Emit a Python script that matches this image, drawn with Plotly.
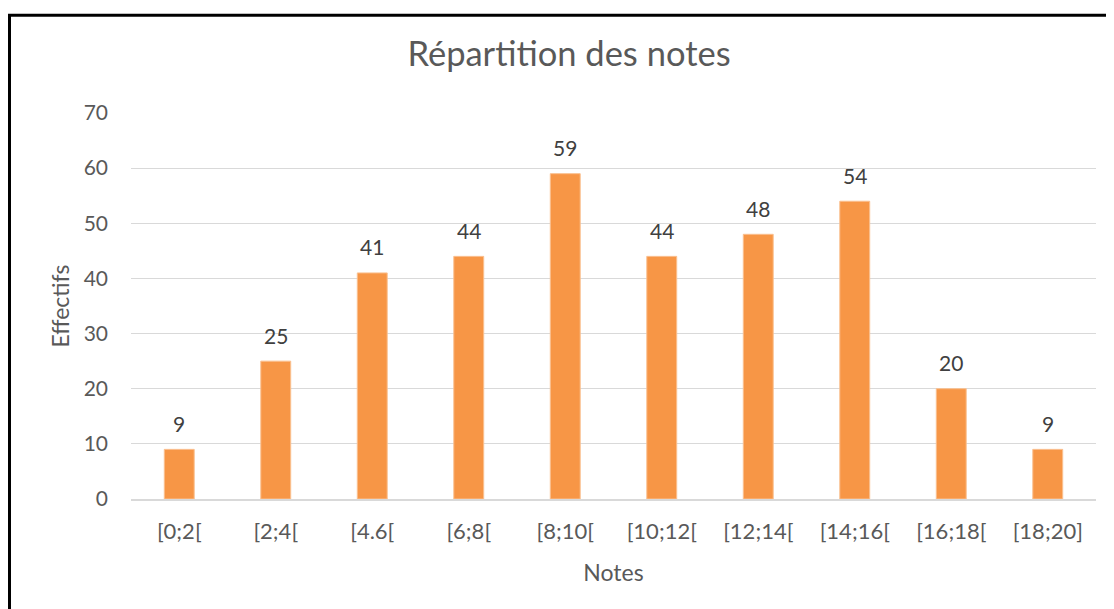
import plotly.graph_objects as go

categories = ["[0;2[", "[2;4[", "[4.6[", "[6;8[", "[8;10[", "[10;12[", "[12;14[", "[14;16[", "[16;18[", "[18;20]"]
effectifs = [9, 25, 41, 44, 59, 44, 48, 54, 20, 9]
y_ticks = [0, 10, 20, 30, 40, 50, 60, 70]

FONT = "Lato, 'Noto Sans', sans-serif"
W, H = 1114, 609
OFF = 8  # page body margin
ML, MR, MT, MB = 131 - OFF, 26, 113 - OFF, 117.5

fig = go.Figure()
fig.add_trace(go.Bar(
    x=categories, y=effectifs,
    marker=dict(color="#F79646", line=dict(color="#FAC090", width=1)),
    hoverinfo="x+y",
))

for c, v in zip(categories, effectifs):
    fig.add_annotation(x=c, y=v, text=str(v), showarrow=False, yanchor="middle",
                       yshift=26, font=dict(family=FONT, size=21, color="#404040"))

pw = W - ML - MR
ph = H - MT - MB
def px_to_paper_x(px):
    return (px - OFF - ML) / pw
def py_to_paper_y(py):
    return (H - MB - (py - OFF)) / ph

fig.add_shape(type="line", xref="paper", yref="paper",
              x0=px_to_paper_x(8), x1=px_to_paper_x(1130),
              y0=py_to_paper_y(15), y1=py_to_paper_y(15),
              line=dict(color="black", width=3))
fig.add_shape(type="line", xref="paper", yref="paper",
              x0=px_to_paper_x(9.5), x1=px_to_paper_x(9.5),
              y0=py_to_paper_y(14), y1=py_to_paper_y(640),
              line=dict(color="black", width=3))

fig.update_layout(
    width=W, height=H,
    margin=dict(l=ML, r=MR, t=MT, b=MB),
    paper_bgcolor="white", plot_bgcolor="white",
    bargap=0.69,
    showlegend=False,
    title=dict(text="Répartition des notes", x=(569 - OFF) / W, xref="container", xanchor="center",
               y=1 - (54 - OFF) / H, yref="container", yanchor="middle",
               font=dict(family=FONT, size=34.5, color="#595959")),
    font=dict(family=FONT, color="#595959"),
    xaxis=dict(
        title=dict(text="Notes", font=dict(family=FONT, size=23, color="#595959"), standoff=22),
        tickfont=dict(family=FONT, size=22, color="#595959"),
        showline=True, linecolor="#D9D9D9", linewidth=1.5,
        showgrid=False, ticks="", ticklabelstandoff=12,
    ),
    yaxis=dict(
        title=dict(text="Effectifs", font=dict(family=FONT, size=23, color="#595959"), standoff=7),
        tickfont=dict(family=FONT, size=21, color="#595959"),
        range=[0, 70], tickvals=y_ticks,
        showgrid=True, gridcolor="#D9D9D9", gridwidth=1.2,
        zeroline=False, showline=False, ticks="", ticklabelstandoff=22,
    ),
)

fig.write_html("out.html")
